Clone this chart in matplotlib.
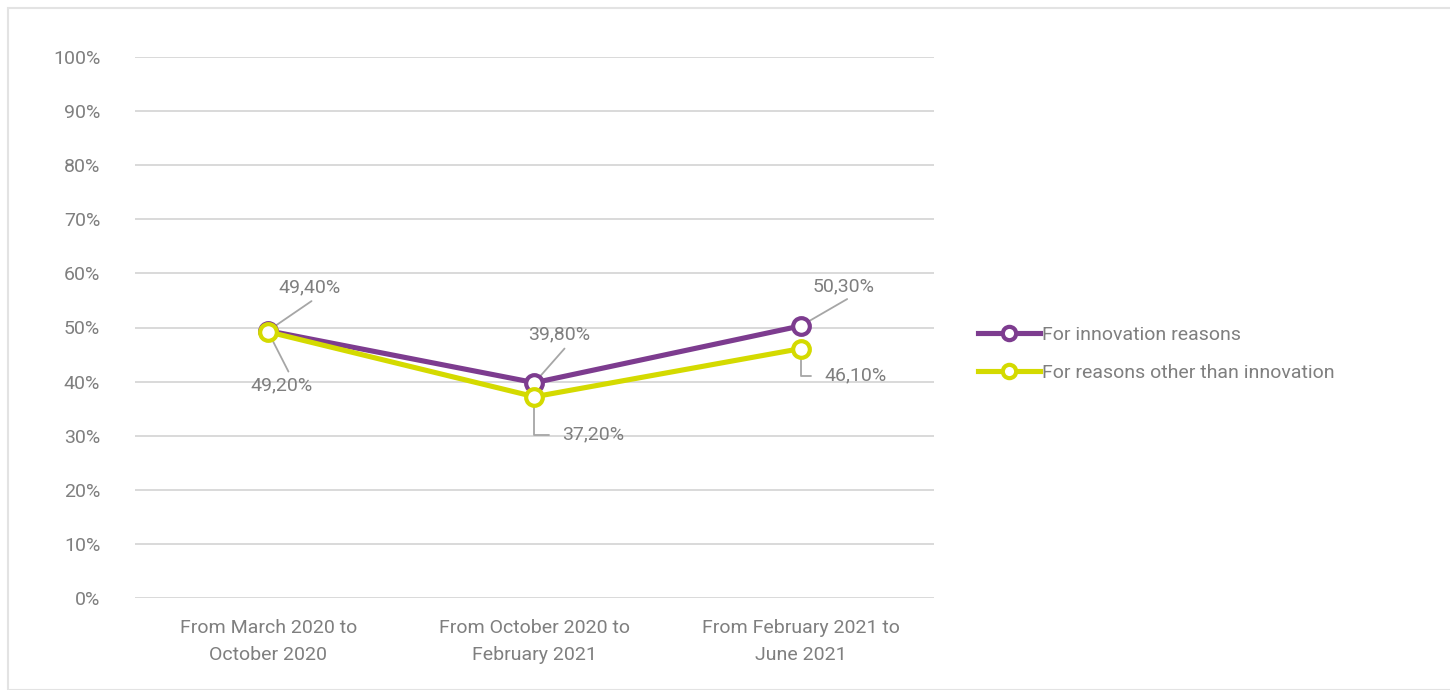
import matplotlib

matplotlib.use("Agg")
import matplotlib.pyplot as plt
from matplotlib.patches import Rectangle

# ---------------------------------------------------------------------------
# Data
# ---------------------------------------------------------------------------

periods = [
    "From March 2020 to\nOctober 2020",
    "From October 2020 to\nFebruary 2021",
    "From February 2021 to\nJune 2021",
]
innovation = [49.4, 39.8, 50.3]
other_reasons = [49.2, 37.2, 46.1]
series_names = ["For innovation reasons", "For reasons other than innovation"]
y_ticks = list(range(0, 101, 10))

PURPLE = "#7D3C8F"
LIME = "#D4DA00"
TEXT = "#7F7F7F"
GRID = "#D9D9D9"
FS = 14

plt.rcParams["font.family"] = ["Roboto", "DejaVu Sans"]


def pct(v):
    return f"{v:.2f}".replace(".", ",") + "%"


fig = plt.figure(figsize=(14.5, 6.9), dpi=100)
fig.patches.append(
    Rectangle((8 / 1450, 0), 1.0, 1 - 8 / 690, transform=fig.transFigure,
              fill=False, edgecolor="#E3E3E3", linewidth=1.5)
)
ax = fig.add_axes([135 / 1450, 1 - 598 / 690, 799 / 1450, 541 / 690])

x = range(len(periods))
line_kw = dict(linewidth=3.7, marker="o", markersize=12,
               markerfacecolor="white", markeredgewidth=3.0, zorder=3)
ax.plot(x, innovation, color=PURPLE, label=series_names[0], **line_kw)
ax.plot(x, other_reasons, color=LIME, label=series_names[1], **line_kw)

ax.set_xlim(-0.5, len(periods) - 0.5)
ax.set_ylim(0, 100)
ax.set_yticks(y_ticks)
ax.set_yticklabels([f"{t}%" for t in y_ticks])
ax.set_xticks(list(x))
ax.set_xticklabels(periods, linespacing=1.65)
ax.tick_params(axis="y", length=0, pad=25, labelsize=FS, labelcolor=TEXT)
ax.tick_params(axis="x", length=0, pad=15, labelsize=FS, labelcolor=TEXT)
ax.grid(axis="y", color=GRID, linewidth=1.4)
ax.set_axisbelow(True)
for s in ax.spines.values():
    s.set_visible(False)

# data labels with leader lines: (value, x index, offset px, relpos, connection)
straight = "arc3"
elbow = "angle,angleA=0,angleB=90,rad=0"
labels = [
    (innovation[0], 0, (41, 43), (0.64, 0.0), straight, 2),
    (other_reasons[0], 0, (13, -54), (0.66, 1.0), straight, 2),
    (innovation[1], 1, (25, 48), (0.65, 0.0), straight, 2),
    (other_reasons[1], 1, (59, -38), (0.0, 0.5), elbow, 8),
    (innovation[2], 2, (43, 40), (0.67, 0.0), straight, 2),
    (other_reasons[2], 2, (55, -27), (0.0, 0.5), elbow, 8),
]
for val, xi, off, rel, conn, sh in labels:
    ax.annotate(
        pct(val), xy=(xi, val), xytext=off, textcoords="offset pixels",
        ha="center", va="center", fontsize=FS, color=TEXT, zorder=2,
        arrowprops=dict(arrowstyle="-", color="#A6A6A6", linewidth=1.3,
                        connectionstyle=conn, relpos=rel,
                        shrinkA=sh, shrinkB=0),
    )

ax.legend(loc="center left", bbox_to_anchor=(978 / 1450, 1 - 354 / 690),
          bbox_transform=fig.transFigure, frameon=False, fontsize=FS,
          labelcolor=TEXT, handlelength=3.2, handletextpad=0.1,
          labelspacing=1.05, borderaxespad=0, borderpad=0,
          markerscale=0.8)

fig.savefig("out.png", dpi=100)
